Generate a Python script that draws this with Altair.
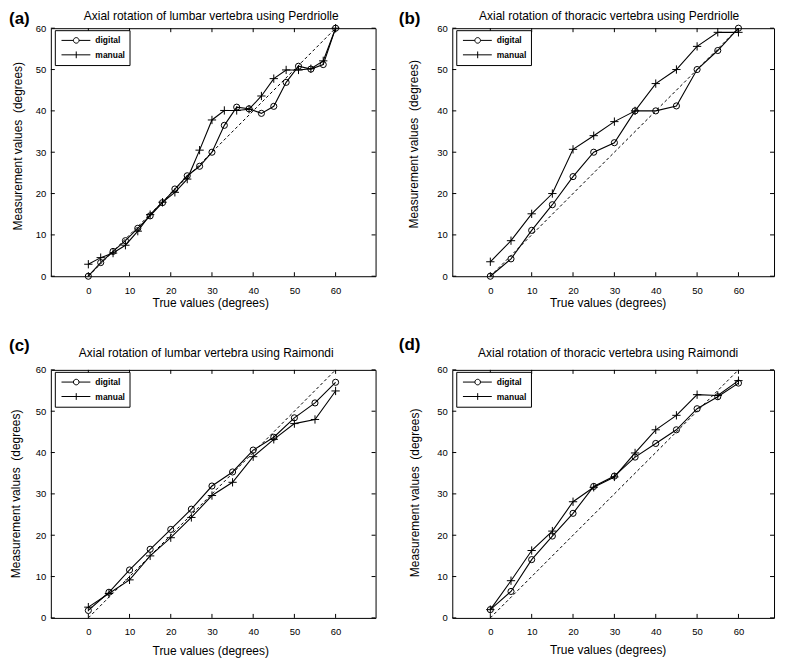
import altair as alt
import pandas as pd

FONT = "Liberation Sans"

# ---------------- data ----------------
TICKS = [0, 10, 20, 30, 40, 50, 60]
DIAG = [0, 60]
SERIES = ["digital", "manual"]

X_A = [0, 3, 6, 9, 12, 15, 18, 21, 24, 27, 30, 33, 36, 39, 42, 45, 48, 51, 54, 57, 60]
A_DIGITAL = [0, 3.3, 6.0, 8.6, 11.6, 14.6, 17.8, 21.1, 24.3, 26.6, 30.0, 36.5, 40.9, 40.5, 39.4, 41.1, 46.9, 50.8, 50.1, 51.2, 60]
A_MANUAL = [2.9, 4.5, 5.6, 7.5, 10.9, 14.9, 17.9, 20.3, 23.5, 30.5, 37.8, 40.1, 40.1, 40.4, 43.6, 47.8, 49.9, 49.9, 50.2, 52.1, 60]

X_5 = [0, 5, 10, 15, 20, 25, 30, 35, 40, 45, 50, 55, 60]
B_DIGITAL = [0, 4.2, 11.1, 17.3, 24.1, 30.0, 32.3, 40.0, 40.0, 41.2, 50.0, 54.6, 60]
B_MANUAL = [3.5, 8.6, 15.1, 20.0, 30.7, 34.0, 37.4, 40.0, 46.6, 50.0, 55.6, 59.0, 59.0]

C_DIGITAL = [1.8, 6.2, 11.6, 16.6, 21.4, 26.3, 31.9, 35.3, 40.6, 43.7, 48.4, 52.0, 57.0]
C_MANUAL = [2.6, 5.9, 9.2, 15.0, 19.4, 24.3, 29.6, 32.8, 39.0, 43.2, 47.0, 48.0, 54.9]

D_DIGITAL = [2.0, 6.4, 14.1, 19.8, 25.3, 31.8, 34.3, 38.9, 42.2, 45.5, 50.6, 53.5, 56.8]
D_MANUAL = [2.0, 9.0, 16.3, 21.0, 28.1, 31.6, 34.1, 39.9, 45.5, 49.0, 54.0, 53.8, 57.4]

LETTERS = ["(a)", "(b)", "(c)", "(d)"]
TITLES = [
    "Axial rotation of lumbar vertebra using Perdriolle",
    "Axial rotation of thoracic vertebra using Perdriolle",
    "Axial rotation of lumbar vertebra using Raimondi",
    "Axial rotation of thoracic vertebra using Raimondi",
]
X_TITLE = "True values (degrees)"
Y_TITLE = "Measurement values\u00a0 (degrees)"

# ---------------- layout / style ----------------
H = 249
LAYOUT = [
    dict(w=326, xdom=[-9.1, 69.7], lx=-42, ly=-4.5, tdx=-2, ty=-8.5, xtx=160, xty=30, ytx=-29.5, yty=118),
    dict(w=323, xdom=[-9.2, 68.6], lx=-53.7, ly=-4.5, tdx=-4, ty=-8.5, xtx=156, xty=30, ytx=-35, yty=116),
    dict(w=326, xdom=[-9.1, 69.7], lx=-42, ly=-18.6, tdx=-7, ty=-12.6, xtx=160, xty=37, ytx=-31.5, yty=124),
    dict(w=323, xdom=[-9.2, 68.6], lx=-53.7, ly=-19.6, tdx=-5, ty=-12.6, xtx=156, xty=35.5, ytx=-33.5, yty=123),
]

PLUS = "M-1.35,0H1.35M0,-1.35V1.35"
LEG_D = "M-0.87,0H-0.165M0.165,0H0.835M-0.165,0A0.165,0.165,0,1,1,0.165,0A0.165,0.165,0,1,1,-0.165,0"
LEG_M = "M-0.87,0H0.835M0,-0.2V0.2"


def panel(i, xs, dig, man):
    p = LAYOUT[i]
    W = p["w"]
    n = len(xs)
    df = pd.DataFrame({
        "x": list(xs) + list(xs),
        "y": list(dig) + list(man),
        "series": ["digital"] * n + ["manual"] * n,
    })
    xscale = alt.Scale(domain=p["xdom"], nice=False, zero=False)
    yscale = alt.Scale(domain=[0, 60], nice=False, zero=False)
    xaxis = alt.Axis(
        values=TICKS, ticks=False, domain=False, grid=False,
        labelFont=FONT, labelFontSize=9.5, labelColor="black", labelPadding=9,
        title=X_TITLE, titleFont=FONT, titleFontSize=12, titleFontWeight="normal",
        titleColor="black", titleX=p["xtx"], titleY=p["xty"],
        titleBaseline="alphabetic", titleAlign="center", titleAngle=0,
    )
    yaxis = alt.Axis(
        values=TICKS, ticks=False, domain=False, grid=False,
        labelFont=FONT, labelFontSize=9.5, labelColor="black", labelPadding=5,
        title=Y_TITLE, titleFont=FONT, titleFontSize=12, titleFontWeight="normal",
        titleColor="black", titleX=p["ytx"], titleY=p["yty"],
        titleBaseline="alphabetic", titleAlign="center", titleAngle=270,
    )
    X = alt.X("x:Q", scale=xscale, axis=xaxis)
    Y = alt.Y("y:Q", scale=yscale, axis=yaxis)

    legend = alt.Legend(
        title=None, orient="none", legendX=4, legendY=2, padding=4,
        strokeColor="black", fillColor="white", cornerRadius=0,
        symbolSize=1156, symbolStrokeWidth=1, symbolStrokeColor="black",
        symbolFillColor="transparent", clipHeight=12.5, rowPadding=1.5,
        labelOffset=1.7, labelFont=FONT, labelFontSize=8.5, labelFontWeight="bold",
        labelColor="black",
    )

    diag = alt.Chart(pd.DataFrame({"x": DIAG, "y": DIAG})).mark_line(
        color="black", strokeWidth=1, strokeDash=[3, 2.5]
    ).encode(x=X, y=Y)
    lines = alt.Chart(df).mark_line(color="black", strokeWidth=1.1).encode(
        x=X, y=Y, detail="series:N"
    )
    pts = alt.Chart(df).mark_point(
        filled=False, color="black", strokeWidth=1, size=38, opacity=1
    ).encode(
        x=X, y=Y,
        shape=alt.Shape("series:N", scale=alt.Scale(domain=SERIES, range=["circle", PLUS]), legend=None),
    )
    # legend-only layer (no rows drawn): symbols are a line with the marker on it
    leg = alt.Chart(df).transform_filter("false").mark_point(
        filled=False, color="black", strokeWidth=1, size=1156, opacity=1
    ).encode(
        x=X, y=Y,
        shape=alt.Shape("series:N", scale=alt.Scale(domain=SERIES, range=[LEG_D, LEG_M]), legend=legend),
    )
    tx = pd.DataFrame({"x": TICKS})
    ty = pd.DataFrame({"y": TICKS})
    bt = alt.Chart(tx).mark_rule(color="black", strokeWidth=1).encode(x=X, y=alt.value(H), y2=alt.value(H - 4))
    tt = alt.Chart(tx).mark_rule(color="black", strokeWidth=1).encode(x=X, y=alt.value(0), y2=alt.value(4))
    lt = alt.Chart(ty).mark_rule(color="black", strokeWidth=1).encode(y=Y, x=alt.value(0), x2=alt.value(4))
    rt = alt.Chart(ty).mark_rule(color="black", strokeWidth=1).encode(y=Y, x=alt.value(W), x2=alt.value(W - 4))
    letter = alt.Chart(pd.DataFrame({"t": [LETTERS[i]]})).mark_text(
        font=FONT, fontSize=17, fontWeight="bold", align="left", baseline="alphabetic", color="black"
    ).encode(text="t:N", x=alt.value(p["lx"]), y=alt.value(p["ly"]))
    title = alt.Chart(pd.DataFrame({"t": [TITLES[i]]})).mark_text(
        font=FONT, fontSize=12, align="center", baseline="alphabetic", color="black"
    ).encode(text="t:N", x=alt.value(W / 2 + p["tdx"]), y=alt.value(p["ty"]))
    return alt.layer(diag, lines, pts, leg, bt, tt, lt, rt, letter, title).resolve_scale(
        shape="independent"
    ).resolve_legend(shape="independent").properties(width=W, height=H)


pa = panel(0, X_A, A_DIGITAL, A_MANUAL)
pb = panel(1, X_5, B_DIGITAL, B_MANUAL)
pc = panel(2, X_5, C_DIGITAL, C_MANUAL)
pd_ = panel(3, X_5, D_DIGITAL, D_MANUAL)

chart = alt.ConcatChart(
    concat=[pa, pb, pc, pd_], columns=2,
    spacing={"row": 94, "column": 77}, bounds="flush",
).properties(
    padding={"left": 0, "top": 0, "right": 4, "bottom": 4},
    background="white",
).configure_view(stroke="black", strokeWidth=1)

chart.save("out.html", embed_options={"renderer": "svg", "actions": False})
